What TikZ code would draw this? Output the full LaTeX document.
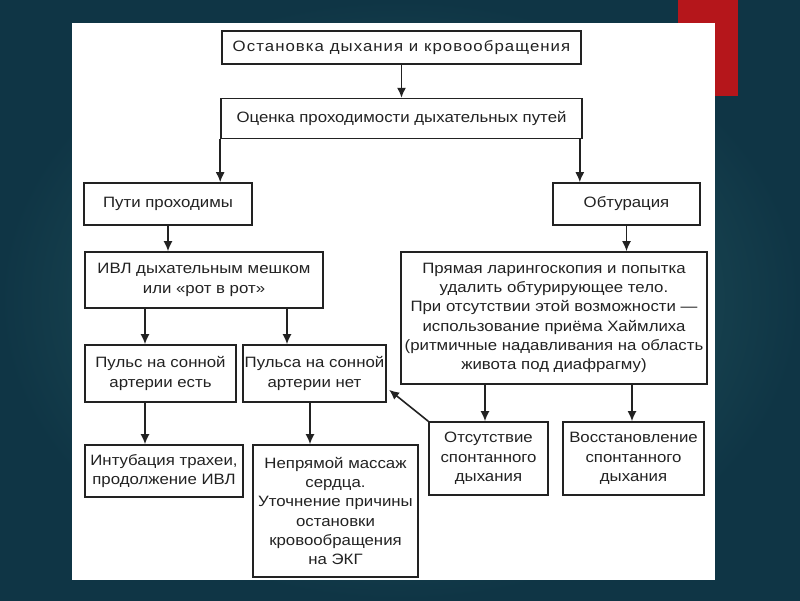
\documentclass[tikz,border=0pt]{standalone}
\usepackage{fontspec}
\setmainfont{Liberation Sans}[FakeStretch=1.12]
\usetikzlibrary{positioning,arrows.meta,calc}
\definecolor{slideout}{HTML}{0F3545}
\definecolor{slidein}{HTML}{2C6267}
\definecolor{accent}{HTML}{B5161B}
\definecolor{ink}{HTML}{222222}

\begin{document}
\begin{tikzpicture}[x=1pt, y=-1pt, >={Latex[length=10pt,width=9pt]},
  every node/.style={font=\fontsize{15}{19.3}\selectfont, text=ink},
  box/.style={draw=ink, line width=1.6pt, rectangle, align=center, inner sep=2pt, fill=white},
  link/.style={->, draw=ink, line width=1.6pt}]
  \useasboundingbox (0,0) rectangle (800,600);
  % slide behind the scan
  \shade[inner color=slidein, outer color=slideout] (0,0) rectangle (800,600);
  \fill[accent] (678,0) rectangle (738,96);
  \fill[white] (72,23) rectangle (715,580);

  \node[box, minimum width=359pt, minimum height=33pt] (stop) at (401.5,47.5) {\addfontfeature{LetterSpace=7}Остановка дыхания и кровообращения};
  \node[box, below=33pt of stop, minimum width=361pt, minimum height=40pt] (assess) {Оценка проходимости дыхательных путей};
  \node[box, minimum width=168pt, minimum height=42pt] (open) at (168,204) {Пути проходимы};
  \node[box, minimum width=147pt, minimum height=42pt] (obstr) at (626.5,204) {Обтурация};
  \node[box, minimum width=238pt, minimum height=56pt] (ivl) at (204,280) {ИВЛ дыхательным мешком\\или «рот в рот»};
  \node[box, minimum width=306pt, minimum height=132pt] (laryng) at (554,318)
    {Прямая ларингоскопия и попытка\\удалить обтурирующее тело.\\При отсутствии этой возможности —\\использование приёма Хаймлиха\\(ритмичные надавливания на область\\живота под диафрагму)};
  \node[box, minimum width=151pt, minimum height=57pt] (pulsyes) at (160.5,373.5) {Пульс на сонной\\артерии есть};
  \node[box, minimum width=143pt, minimum height=57pt] (pulsno) at (314.5,373.5) {Пульса на сонной\\артерии нет};
  \node[box, minimum width=158pt, minimum height=52pt] (intub) at (164,471) {Интубация трахеи,\\продолжение ИВЛ};
  \node[box, minimum width=165pt, minimum height=132pt] (cpr) at (335.5,511)
    {Непрямой массаж\\сердца.\\Уточнение причины\\остановки\\кровообращения\\на ЭКГ};
  \node[box, minimum width=119pt, minimum height=73pt] (noresp) at (488.5,458.5) {Отсутствие\\спонтанного\\дыхания};
  \node[box, minimum width=141pt, minimum height=73pt] (resp) at (633.5,458.5) {Восстановление\\спонтанного\\дыхания};

  \draw[link] (stop) -- (assess);
  \draw[link] (assess.south west) -- (assess.south west |- open.north);
  \draw[link] ($(assess.south east)+(-3,0)$) coordinate (r) -- (r |- obstr.north);
  \draw[link] (open.south) -- (open.south |- ivl.north);
  \draw[link] (obstr.south) -- (obstr.south |- laryng.north);
  \draw[link] (145,0 |- ivl.south) -- (145,0 |- pulsyes.north);
  \draw[link] (287,0 |- ivl.south) -- (287,0 |- pulsno.north);
  \draw[link] (145,0 |- pulsyes.south) -- (145,0 |- intub.north);
  \draw[link] (310,0 |- pulsno.south) -- (310,0 |- cpr.north);
  \draw[link] (485,0 |- laryng.south) -- (485,0 |- noresp.north);
  \draw[link] (632,0 |- laryng.south) -- (632,0 |- resp.north);
  \draw[link] (noresp.north west) -- ($(pulsno.south east)+(2,-13)$);
\end{tikzpicture}
\end{document}
